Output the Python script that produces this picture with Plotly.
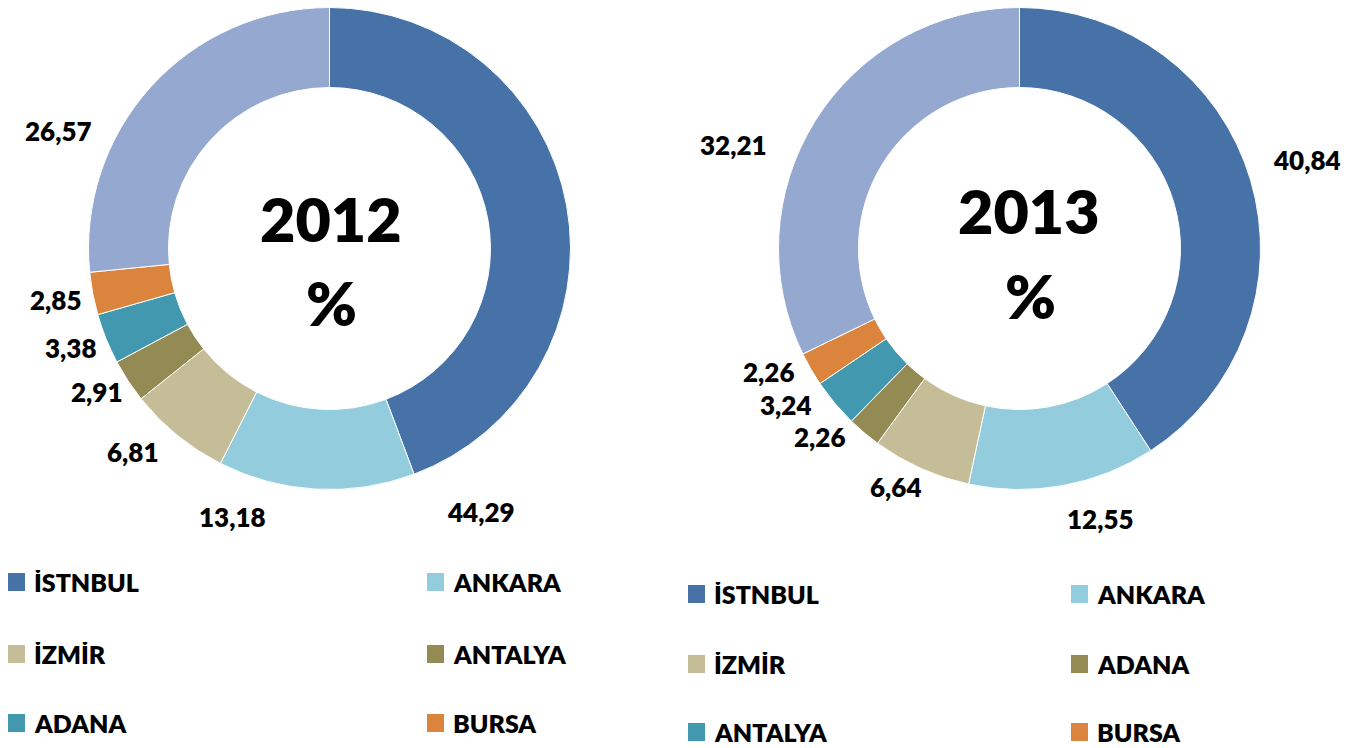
import plotly.graph_objects as go

W, H = 1361, 748          # browser viewport
OFF = 0                   # body margin removed via post_script
FW, FH = W - 2 * OFF, H - 2 * OFF   # figure size

# ---------------- data ----------------
labels_2012 = ["İSTNBUL", "ANKARA", "İZMİR", "ANTALYA", "ADANA", "BURSA", "DİĞER"]
values_2012 = [44.29, 13.18, 6.81, 2.91, 3.38, 2.85, 26.57]

labels_2013 = ["İSTNBUL", "ANKARA", "İZMİR", "ADANA", "ANTALYA", "BURSA", "DİĞER"]
values_2013 = [40.84, 12.55, 6.64, 2.26, 3.24, 2.26, 32.21]

center_texts = ["2012", "2013"]

# ---------------- styles ----------------
colors_2012 = ["#4672A8", "#93CDDD", "#C4BD97", "#948A54", "#4198AF", "#DB843D", "#95A9D0"]
colors_2013 = ["#4672A8", "#93CDDD", "#C4BD97", "#948A54", "#4198AF", "#DB843D", "#95A9D0"]

FONT = "Lato"
WEIGHT = 800


def px(x, y):
    """screen pixel -> paper coords"""
    return (x - OFF) / FW, 1 - (y - OFF) / FH


fig = go.Figure()

# pie placement: centre (screen px) and outer radius
pies = [
    dict(labels=labels_2012, values=values_2012, colors=colors_2012,
         center=(329.5, 248.5), r=241),
    dict(labels=labels_2013, values=values_2013, colors=colors_2013,
         center=(1019.5, 248.5), r=241),
]

for p in pies:
    cx, cy = p["center"]
    r = p["r"]
    dx0, dy1 = px(cx - r, cy - r)
    dx1, dy0 = px(cx + r, cy + r)
    fig.add_trace(go.Pie(
        labels=p["labels"], values=p["values"],
        marker=dict(colors=p["colors"], line=dict(color="white", width=1)),
        hole=0.668, sort=False, direction="clockwise", rotation=0,
        textinfo="none", hoverinfo="label+value", showlegend=False,
        domain=dict(x=[max(dx0, 0), min(dx1, 1)], y=[max(dy0, 0), min(dy1, 1)]),
    ))

# value label placement (pixel positions of Excel's manually placed labels)
label_pos = [
    [(481, 512), (232, 517), (132, 452), (96, 392), (70, 348), (55, 300), (58, 131)],
    [(1307, 160), (1100, 519), (895, 487), (819, 437), (785, 405), (768, 372), (733, 145)],
]
annotations = []
for p, positions in zip(pies, label_pos):
    for v, (lx, ly) in zip(p["values"], positions):
        ax, ay = px(lx, ly)
        annotations.append(dict(
            x=ax, y=ay, xref="paper", yref="paper", showarrow=False,
            text=f"{v:.2f}".replace(".", ","),
            font=dict(family=FONT, size=26, color="black", weight=WEIGHT),
            xanchor="center", yanchor="middle"))

# center texts
center_pos = [((331, 218), (331, 303)), ((1029, 210), (1030, 295))]
for t, ((tx, ty), (qx, qy)) in zip(center_texts, center_pos):
    for s, (cx, cy) in ((t, (tx, ty)), ("%", (qx, qy))):
        ax, ay = px(cx, cy)
        annotations.append(dict(
            x=ax, y=ay, xref="paper", yref="paper", showarrow=False, text=s,
            font=dict(family=FONT, size=61, color="black", weight=WEIGHT),
            xanchor="center", yanchor="middle"))

# legends (two-column grids, "DİĞER" not shown)
legend_layout = [
    dict(cols=(8, 427), rows=(582, 654, 723)),
    dict(cols=(688, 1071), rows=(594, 664, 732)),
]
shapes = []
for p, lg in zip(pies, legend_layout):
    for i, (lab, col) in enumerate(zip(p["labels"][:6], p["colors"][:6])):
        cx = lg["cols"][i % 2]
        cy = lg["rows"][i // 2]
        sx0, sy_top = px(cx, cy - 9)
        sx1, sy_bot = px(cx + 17, cy + 9)
        shapes.append(dict(type="rect", xref="paper", yref="paper",
                           x0=sx0, x1=sx1, y0=sy_bot, y1=sy_top,
                           fillcolor=col, line=dict(width=0)))
        tx, ty = px(cx + 25, cy)
        annotations.append(dict(
            x=tx, y=ty, xref="paper", yref="paper", showarrow=False, text=lab,
            font=dict(family=FONT, size=25, color="black", weight=WEIGHT),
            height=24, valign="middle", borderpad=0,
            xanchor="left", yanchor="middle"))

fig.update_layout(
    width=FW, height=FH,
    margin=dict(l=0, r=0, t=0, b=0),
    paper_bgcolor="white", plot_bgcolor="white",
    annotations=annotations, shapes=shapes,
    showlegend=False,
)

fig.write_html(
    "out.html",
    config={"displayModeBar": False},
    post_script="document.body.style.margin='0';document.body.style.overflow='hidden';",
)
